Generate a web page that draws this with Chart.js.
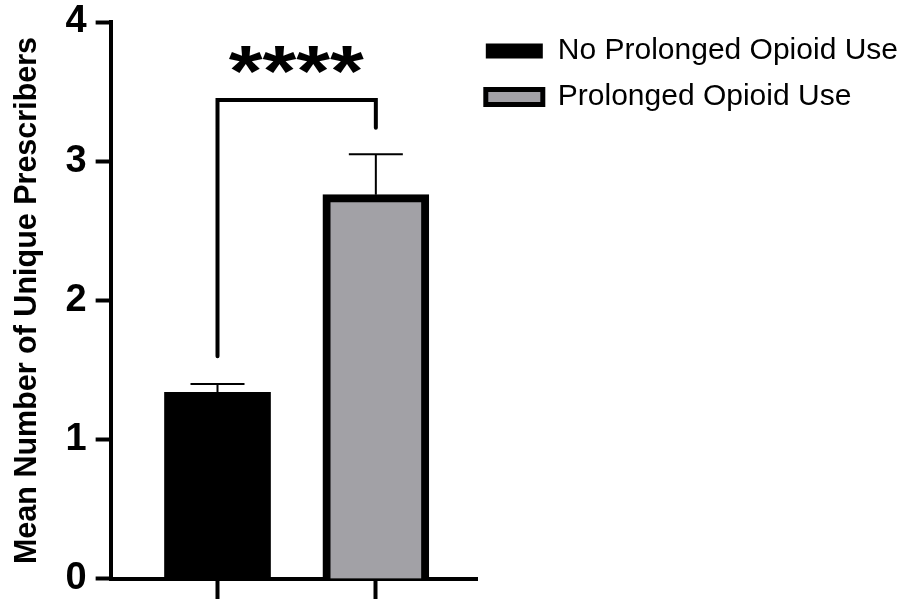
<!DOCTYPE html>
<html>
<head>
<meta charset="utf-8">
<script src="https://cdn.jsdelivr.net/npm/chart.js@4.4.1/dist/chart.umd.min.js"></script>
<style>
    html, body { margin: 0; padding: 0; background: #fff; }
    #wrap { width: 919px; height: 599px; }
</style>
</head>
<body>
<div id="wrap"><canvas id="chart"></canvas></div>
<script>
// Data
const groups = ['No Prolonged Opioid Use', 'Prolonged Opioid Use'];
const groupX = [1, 2];
const means = [1.34, 2.76];
const errUpper = [1.40, 3.05];
const yTicks = [0, 1, 2, 3, 4];

// significance bracket (in data units) and its label
const bracketEnds = [1.6, 3.24];
const bracketTop = 3.44;
const starLevel = 3.73;
const starText = '****';

const barColors = ['#000000', '#a2a1a6'];
const FONT = '"Liberation Sans", Arial, Helvetica, sans-serif';

// error bars + bracket drawn on top of the bars
const extras = {
    id: 'extras',
    afterDatasetsDraw(chart) {
        const ctx = chart.ctx;
        const xs = chart.scales.x;
        const ys = chart.scales.y;
        ctx.save();
        ctx.strokeStyle = '#000';

        // error bars (upper only)
        ctx.lineWidth = 2;
        means.forEach((m, i) => {
            const x = xs.getPixelForValue(groupX[i]);
            const y0 = ys.getPixelForValue(m);
            const y1 = ys.getPixelForValue(errUpper[i]);
            ctx.beginPath();
            ctx.moveTo(x, y0);
            ctx.lineTo(x, y1);
            ctx.moveTo(x - 27, y1);
            ctx.lineTo(x + 27, y1);
            ctx.stroke();
        });

        // bracket
        const xa = xs.getPixelForValue(groupX[0]);
        const xb = xs.getPixelForValue(groupX[1]);
        ctx.lineWidth = 4;
        ctx.lineCap = 'round';
        ctx.lineJoin = 'miter';
        ctx.beginPath();
        ctx.moveTo(xa, ys.getPixelForValue(bracketEnds[0]));
        ctx.lineTo(xa, ys.getPixelForValue(bracketTop));
        ctx.lineTo(xb, ys.getPixelForValue(bracketTop));
        ctx.lineTo(xb, ys.getPixelForValue(bracketEnds[1]));
        ctx.stroke();

        // stars, fitted to the size they have in the figure
        ctx.font = 'bold 80px ' + FONT;
        ctx.textAlign = 'center';
        ctx.textBaseline = 'alphabetic';
        const m = ctx.measureText(starText);
        const w = m.actualBoundingBoxLeft + m.actualBoundingBoxRight;
        const h = m.actualBoundingBoxAscent + m.actualBoundingBoxDescent;
        ctx.translate((xa + xb) / 2, ys.getPixelForValue(starLevel));
        ctx.scale(136 / w, 27 / h);
        ctx.fillStyle = '#000';
        ctx.fillText(starText,
            (m.actualBoundingBoxLeft - m.actualBoundingBoxRight) / 2,
            (m.actualBoundingBoxAscent - m.actualBoundingBoxDescent) / 2);
        ctx.restore();
    }
};

new Chart(document.getElementById('chart'), {
    type: 'bar',
    data: {
        datasets: groups.map((g, i) => ({
            label: g,
            data: [{ x: groupX[i], y: means[i] }],
            backgroundColor: barColors[i],
            borderColor: '#000',
            borderWidth: i === 0 ? 0 : 8,
            barThickness: 106,
            grouped: false
        }))
    },
    options: {
        responsive: true,
        maintainAspectRatio: false,
        animation: false,
        layout: { padding: { left: 12, top: 22, right: 11, bottom: 0 } },
        scales: {
            x: {
                type: 'linear',
                min: 0.325,
                max: 2.644,
                offset: false,
                afterBuildTicks: scale => { scale.ticks = groupX.map(v => ({ value: v })); },
                ticks: { display: false },
                grid: { drawOnChartArea: false, offset: false, tickLength: 20, tickWidth: 4, tickColor: '#000' },
                border: { color: '#000', width: 4 }
            },
            y: {
                min: 0,
                max: 4,
                afterBuildTicks: scale => { scale.ticks = yTicks.map(v => ({ value: v })); },
                ticks: {
                    color: '#000',
                    padding: 9,
                    font: { family: FONT, size: 38, weight: 'bold', lineHeight: 0.58 }
                },
                grid: { drawOnChartArea: false, tickLength: 15, tickWidth: 4, tickColor: '#000' },
                border: { color: '#000', width: 4 },
                title: {
                    display: true,
                    text: 'Mean Number of Unique Prescribers',
                    color: '#000',
                    padding: { top: 0, bottom: 14 },
                    font: { family: FONT, size: 30.5, weight: 'bold', lineHeight: 1.0 }
                }
            }
        },
        plugins: {
            tooltip: { enabled: false },
            legend: {
                position: 'right',
                align: 'start',
                maxWidth: 440,
                title: { display: true, text: '', padding: 0, font: { size: 6, lineHeight: 1 } },
                labels: {
                    color: '#000',
                    boxWidth: 57,
                    boxHeight: 15,
                    padding: 8,
                    font: { family: FONT, size: 30, lineHeight: 1.267 },
                    generateLabels: chart => chart.data.datasets.map((ds, i) => ({
                        text: [ds.label],
                        fillStyle: ds.backgroundColor,
                        strokeStyle: '#000',
                        fontColor: '#000',
                        lineWidth: i === 0 ? 0 : 5,
                        hidden: false,
                        datasetIndex: i
                    }))
                }
            }
        }
    },
    plugins: [extras]
});
</script>
</body>
</html>
